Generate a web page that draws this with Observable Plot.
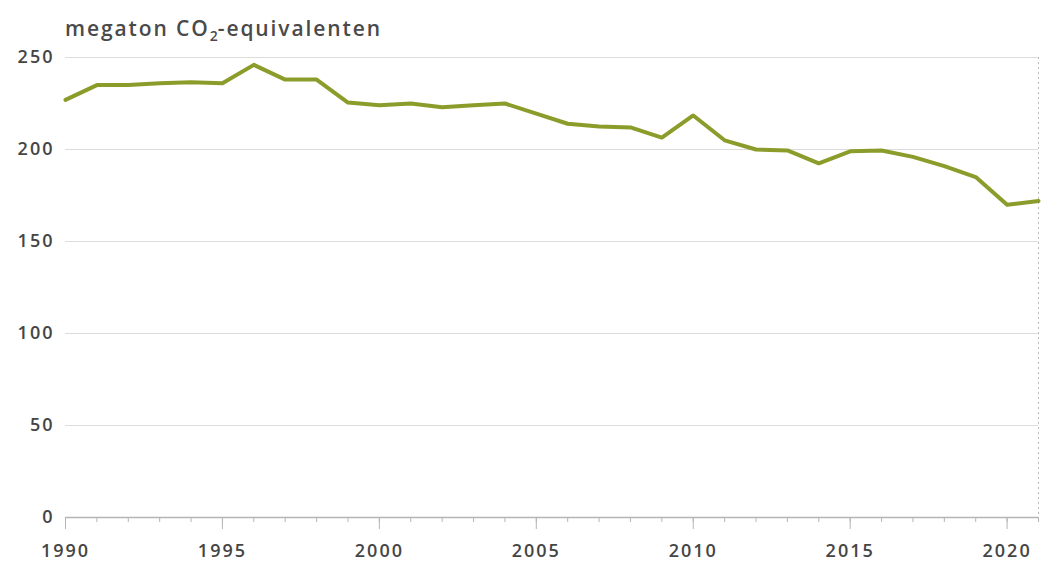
<!DOCTYPE html>
<html>
<head>
<meta charset="utf-8">
<script src="https://cdn.jsdelivr.net/npm/d3@7"></script>
<script src="https://cdn.jsdelivr.net/npm/@observablehq/plot@0.6"></script>
<style>
  html, body { margin: 0; padding: 0; background: #fff; }
  #wrap { position: relative; width: 1046px; height: 568px; font-family: "Open Sans", Lato, sans-serif; }
  #title { position: absolute; left: 65px; top: 17px; font-size: 21px; line-height: 22px; font-weight: 600; letter-spacing: 1.9px; color: #4a4a4a; white-space: nowrap; }
  #title sub { font-size: 14px; vertical-align: -5px; letter-spacing: 0; }
</style>
</head>
<body>
<div id="wrap">
  <div id="title">megaton CO<sub>2</sub>-equivalenten</div>
</div>
<script>
const years = [1990,1991,1992,1993,1994,1995,1996,1997,1998,1999,2000,2001,2002,2003,2004,2005,2006,2007,2008,2009,2010,2011,2012,2013,2014,2015,2016,2017,2018,2019,2020,2021];
const emissions = [227,235,235,236,236.5,236,246,238,238,225.5,224,225,223,224,225,219.5,214,212.5,212,206.5,218.5,205,200,199.5,192.5,199,199.5,196,191,185,170,172];
const yTicks = [0,50,100,150,200,250];
const majorYears = [1990,1995,2000,2005,2010,2015,2020];
const lastYear = [2021];

const data = years.map((y, i) => ({year: y, value: emissions[i]}));

const chart = Plot.plot({
  width: 1046,
  height: 568,
  marginLeft: 65,
  marginRight: 8,
  marginTop: 57,
  marginBottom: 51,
  style: {fontFamily: "'Open Sans', Lato, sans-serif", fontSize: "18px", fontWeight: 600, letterSpacing: "2px", color: "#454545", background: "#fff"},
  x: {domain: [1990, 2021], label: null},
  y: {domain: [0, 250], label: null},
  marks: [
    Plot.ruleY(yTicks.filter(d => d > 0), {stroke: "#dcdcdc", strokeWidth: 1}),
    Plot.ruleX(lastYear, {stroke: "#bbb", strokeDasharray: "2,3", strokeWidth: 1}),
    Plot.ruleY([0], {stroke: "#b5b5b5", strokeWidth: 1.5}),
    Plot.axisY({ticks: yTicks, tickSize: 0, tickPadding: 11, tickFormat: d => String(d), fill: "#454545"}),
    Plot.axisX({ticks: years, tickSize: 5, text: null, stroke: "#b5b5b5"}),
    Plot.axisX({ticks: majorYears, tickSize: 12, tickPadding: 15, tickFormat: d => String(d), stroke: "#b5b5b5", fill: "#454545"}),
    Plot.line(data, {x: "year", y: "value", stroke: "#8c9c2a", strokeWidth: 4, strokeLinejoin: "round"})
  ]
});
document.getElementById("wrap").prepend(chart);
</script>
</body>
</html>
